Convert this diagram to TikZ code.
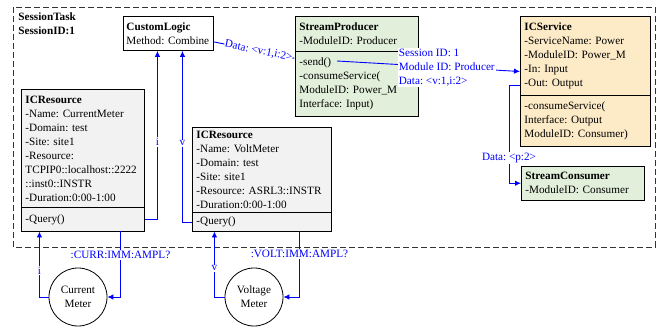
\documentclass[tikz,border=0pt]{standalone}
\usepackage{fontspec}
\setmainfont{Liberation Serif}
\usetikzlibrary{shapes.multipart,arrows.meta,calc}

\begin{document}
\begin{tikzpicture}[x=1pt,y=-1pt, line width=0.8pt,
    every node/.style={font=\fontsize{11.2}{14}\selectfont\frenchspacing},
    classbox/.style={
            draw,
            rectangle split,
            rectangle split parts=2,
            align=left,
            anchor=north west,
            inner xsep=4pt,
            inner ysep=6pt,
            line width=0.9pt
          },
    plainbox/.style={
            draw,
            align=left,
            anchor=north west,
            inner xsep=4pt,
            inner ysep=6pt,
            line width=0.9pt
          },
    meter/.style={circle, draw, minimum size=58pt, inner sep=0pt, align=center},
    flow/.style={draw=blue, line width=0.9pt, -{Latex[length=6pt,width=5.5pt]}},
    flowlabel/.style={text=blue, fill=white, inner sep=1pt}]
        % Define colors
        \definecolor{resgray}{RGB}{242, 242, 242}
        \definecolor{streamgreen}{RGB}{226, 239, 218}
        \definecolor{servorange}{RGB}{253, 235, 200}

    \useasboundingbox (0,0) rectangle (660,328);

    % session frame
    \draw[dash pattern=on 6pt off 3pt, line width=0.9pt, black!80] (13,7) rectangle (655,247);
    \node[anchor=north west, align=left, inner sep=0pt] (task) at (18,12) {\textbf{SessionTask}\\\textbf{SessionID:1}};

    % classes
    \node[plainbox, text width=84pt, inner xsep=3pt] (logic) at (123,16) {\textbf{CustomLogic}\\\mbox{Method: Combine}};
    \node[classbox, fill=streamgreen, text width=115pt] (prod) at (295,16)
        {\textbf{StreamProducer}\\-ModuleID: Producer
         \nodepart{two}-send()\\-consumeService(\\ModuleID: Power\_M\\Interface: Input)};
    \node[classbox, fill=servorange, text width=122pt] (svc) at (520,16)
        {\textbf{ICService}\\-ServiceName: Power\\-ModuleID: Power\_M\\-In: Input\\-Out: Output
         \nodepart{two}-consumeService(\\Interface: Output\\ModuleID: Consumer)};
    \node[plainbox, fill=streamgreen, text width=115pt] (cons) at (521,166)
        {\textbf{StreamConsumer}\\-ModuleID: Consumer};
    \node[classbox, fill=resgray, text width=115pt] (ires1) at (21,89)
        {\textbf{ICResource}\\-Name: CurrentMeter\\-Domain: test\\-Site: site1\\-Resource:\\\mbox{TCPIP0::localhost::2222}\\::inst0::INSTR\\-Duration:0:00-1:00
         \nodepart{two}-Query()};
    \node[classbox, fill=resgray, text width=131pt, inner ysep=3.5pt] (ires2) at (192,127)
        {\textbf{ICResource}\\-Name: VoltMeter\\-Domain: test\\-Site: site1\\-Resource: ASRL3::INSTR\\-Duration:0:00-1:00
         \nodepart{two}-Query()};

    % meters
    \node[meter] (cmeter) at (78,297) {Current\\Meter};
    \node[meter] (vmeter) at (254,297) {Voltage\\Meter};

    \coordinate (sendpt) at (337,61);

    % connectors
    \draw[flow] ($(ires1.text split east)!.5!(ires1.south east)$) -| node[flowlabel, pos=0.73] {i} ([xshift=-11pt]logic.south);
    \draw[flow] ($(ires2.text split west)!.5!(ires2.south west)$) -| node[flowlabel, pos=0.73] {v} ([xshift=14pt]logic.south);
    \draw[flow] ([yshift=-8.5pt]logic.east) -- node[flowlabel, sloped, pos=0.55, inner sep=0.5pt] {Data: <v:1,i:2>} ([yshift=8pt]prod.west);
    \draw[flow] (sendpt) -- node[flowlabel, pos=0.6, align=left] {Session ID: 1\\Module ID: Producer\\Data: <v:1,i:2>} ([yshift=10pt]svc.west);
    \draw[flow] ([yshift=-4pt]svc.west) -- ++(-11,0) |- node[flowlabel, pos=0.37] {Data: <p:2>} (cons.west);

    \draw[flow] ([xshift=37.5pt]ires1.south) |- node[flowlabel, pos=0.18] {:CURR:IMM:AMPL?} (cmeter.east);
    \draw[flow] (cmeter.west) -| node[flowlabel, pos=0.7] {i} ([xshift=-43.5pt]ires1.south);
    \draw[flow] ([xshift=37.5pt]ires2.south) |- node[flowlabel, pos=0.17] {:VOLT:IMM:AMPL?} (vmeter.east);
    \draw[flow] (vmeter.west) -| node[flowlabel, pos=0.72] {v} ([xshift=-47.5pt]ires2.south);

    \end{tikzpicture}
\end{document}
